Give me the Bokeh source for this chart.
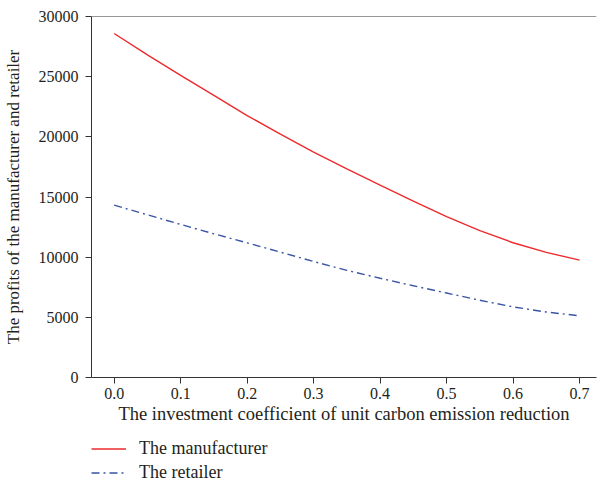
from bokeh.plotting import figure
from bokeh.layouts import column
from bokeh.models import (Range1d, FixedTicker, NumeralTickFormatter, Span,
                          Legend, LegendItem)
from bokeh.embed import file_html
from bokeh.resources import INLINE

# ---- data ----
coef = [0.0, 0.05, 0.1, 0.15, 0.2, 0.25, 0.3, 0.35, 0.4, 0.45, 0.5, 0.55, 0.6, 0.65, 0.7]
manufacturer = [28590, 26815, 25100, 23440, 21770, 20220, 18730, 17340, 15980,
                14650, 13370, 12200, 11200, 10400, 9750]
retailer = [14320, 13520, 12720, 11940, 11190, 10420, 9640, 8900, 8250,
            7620, 7020, 6420, 5870, 5440, 5130]
x_ticks = [0.0, 0.1, 0.2, 0.3, 0.4, 0.5, 0.6, 0.7]
y_ticks = [0, 5000, 10000, 15000, 20000, 25000, 30000]
x_title = "The investment coefficient of unit carbon emission reduction"
y_title = "The profits of the manufacturer and retailer"
series_names = ["The manufacturer", "The retailer"]

FONT = "Liberation Serif"
TXT = "#231f20"
RED = "#ee2a2d"
BLUE = "#3a55a4"
DASH = "8 4 2 4"

p = figure(width=598, height=433, output_backend="svg", toolbar_location=None,
           x_range=Range1d(-0.0341, 0.7255), y_range=Range1d(0, 30000),
           min_border_left=84, min_border_right=2, min_border_top=16,
           min_border_bottom=56)
p.outline_line_color = None
p.grid.grid_line_color = None

for ax in (p.xaxis[0], p.yaxis[0]):
    ax.axis_line_color = "#333333"
    ax.major_tick_line_color = "#333333"
    ax.major_tick_in = 0
    ax.major_tick_out = 6
    ax.minor_tick_line_color = None
    ax.major_label_text_font = FONT
    ax.major_label_text_font_size = "16px"
    ax.major_label_text_color = TXT
    ax.axis_label_text_font = FONT
    ax.axis_label_text_font_style = "normal"
    ax.axis_label_text_color = TXT

p.xaxis.ticker = FixedTicker(ticks=x_ticks)
p.xaxis.formatter = NumeralTickFormatter(format="0.0")
p.xaxis.major_label_standoff = 4
p.xaxis.axis_label = x_title
p.xaxis.axis_label_text_font_size = "18.5px"
p.xaxis.axis_label_standoff = 2

p.yaxis.ticker = FixedTicker(ticks=y_ticks)
p.yaxis.major_label_standoff = 7
p.yaxis.axis_label = y_title
p.yaxis.axis_label_text_font_size = "17px"
p.yaxis.axis_label_standoff = 13

# top frame line
p.add_layout(Span(location=30000, dimension="width", line_color="#333333", line_width=1))

p.line(coef, manufacturer, line_color=RED, line_width=1.4)
p.line(coef, retailer, line_color=BLUE, line_width=1.4, line_dash=DASH)

# legend strip below the chart (same series, drawn outside its view so only the legend shows)
p2 = figure(width=598, height=47, output_backend="svg", toolbar_location=None,
            x_range=Range1d(10, 11), y_range=Range1d(100000, 110000),
            x_axis_location=None, y_axis_location=None,
            min_border_left=84, min_border_right=2, min_border_top=5,
            min_border_bottom=0)
p2.outline_line_color = None
p2.grid.grid_line_color = None
l1 = p2.line(coef, manufacturer, line_color=RED, line_width=1.4)
l2 = p2.line(coef, retailer, line_color=BLUE, line_width=1.4, line_dash=DASH)

legend = Legend(items=[LegendItem(label=series_names[0], renderers=[l1]),
                       LegendItem(label=series_names[1], renderers=[l2])],
                location="top_left", orientation="vertical",
                glyph_width=35, glyph_height=17, label_height=17, label_standoff=13,
                spacing=3, padding=0, margin=0,
                border_line_color=None, background_fill_alpha=0,
                label_text_font=FONT, label_text_font_size="18px",
                label_text_color=TXT)
p2.add_layout(legend, "center")

layout = column(p, p2, spacing=0)
open("out.html", "w").write(file_html(layout, INLINE))
